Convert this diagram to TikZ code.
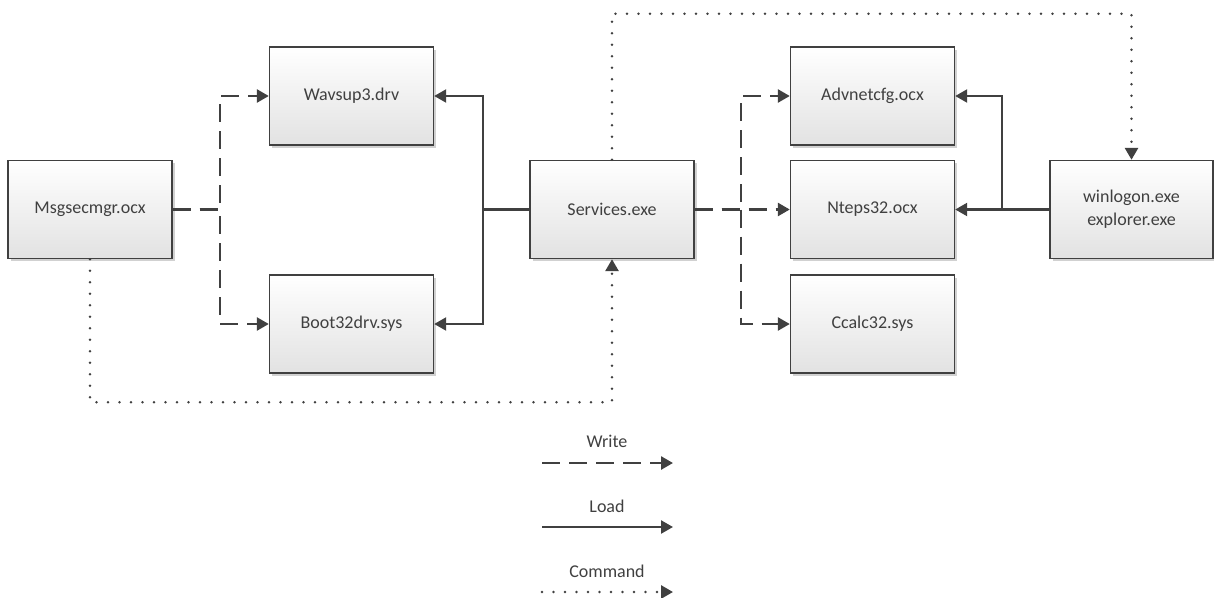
\documentclass[tikz,border=0pt]{standalone}
\usepackage{fontspec}
\setmainfont{Carlito}
\usetikzlibrary{arrows.meta,shadows}
\definecolor{ink}{HTML}{404040}
\definecolor{boxbot}{HTML}{E2E2E2}
\tikzset{
  box/.style={draw=ink, line width=1.4pt, minimum width=164pt, minimum height=98pt,
    top color=white, bottom color=boxbot, text=ink, align=center,
    font=\fontsize{18}{23}\selectfont, inner sep=0pt,
    drop shadow={shadow xshift=2.5pt, shadow yshift=-2.5pt, opacity=0.18, fill=black}},
  writeln/.style={-{Triangle[length=12pt,width=13pt,fill=ink]}, draw=ink, line width=2.6pt, dash pattern=on 18pt off 9pt},
  loadln/.style={-{Triangle[length=12pt,width=13pt,fill=ink]}, draw=ink, line width=2.3pt},
  cmdln/.style={-{Triangle[length=12pt,width=13pt,fill=ink,line cap=butt]}, draw=ink, line width=2.8pt, line cap=round, dash pattern=on 0pt off 11.5pt},
  lbl/.style={text=ink, font=\fontsize{18}{22}\selectfont, inner sep=0pt}
}
\begin{document}
\begin{tikzpicture}[x=1pt,y=-1pt]
\useasboundingbox (0,0) rectangle (1214,597);
% boxes
\node[box] (msg)  at (90,209.5)   {Msgsecmgr.ocx};
\node[box] (wav)  at (351.5,96)   {Wavsup3.drv};
\node[box] (boot) at (351.5,324)  {Boot32drv.sys};
\node[box] (serv) at (612,209.5)  {Services.exe};
\node[box] (adv)  at (872.5,96)   {Advnetcfg.ocx};
\node[box] (nte)  at (872.5,209.5){Nteps32.ocx};
\node[box] (cca)  at (872.5,324)  {Ccalc32.sys};
\node[box, minimum width=163pt] (win) at (1131.5,209.5) {winlogon.exe\\explorer.exe};
% junctions
\coordinate (wj)  at (220,209.5);
\coordinate (lj)  at (483,209.5);
\coordinate (wj2) at (741,209.5);
\coordinate (lj2) at (1002,209.5);
% write
\draw[writeln] (msg.east) -- (wj) |- (wav.west);
\draw[writeln] (msg.east) -- (wj) |- (boot.west);
\draw[writeln] (serv.east) -- (wj2) |- (adv.west);
\draw[writeln] (serv.east) -- (nte.west);
\draw[writeln] (wj2) |- (cca.west);
% load
\draw[loadln] (serv.west) -- (lj) |- (wav.east);
\draw[loadln] (lj) |- (boot.east);
\draw[loadln] (win.west) -- (nte.east);
\draw[loadln] (lj2) |- (adv.east);
% command
\draw[cmdln] (serv.north) -- ++(0,-146) -| (win.north);
\draw[cmdln] (msg.south) -- ++(0,143) -| (serv.south);
% legend
\coordinate (w1) at (542,463); \coordinate (w2) at (673,463);
\coordinate (l1) at (542,527); \coordinate (l2) at (673,527);
\coordinate (c1) at (542,592); \coordinate (c2) at (673,592);
\node[lbl] (wl) at (607,441) {Write};
\node[lbl] (ll) at (607,506) {Load};
\node[lbl] (cl) at (607,571) {Command};
\draw[writeln] (w1) -- (w2);
\draw[loadln] (l1) -- (l2);
\draw[cmdln] (c1) -- (c2);
\end{tikzpicture}
\end{document}
